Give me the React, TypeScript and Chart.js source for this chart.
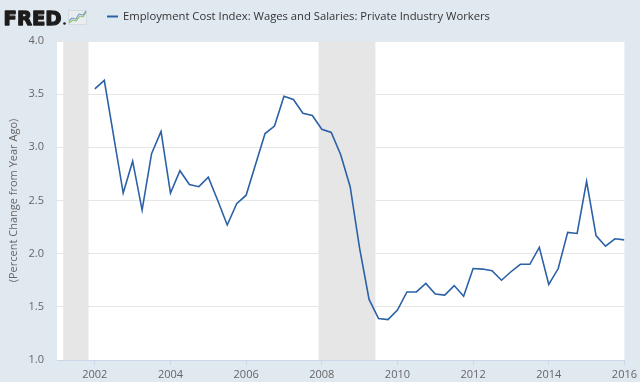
import { useEffect, useRef } from 'react';
import { Chart, registerables } from 'chart.js';

Chart.register(...registerables);

const seriesTitle = 'Employment Cost Index: Wages and Salaries: Private Industry Workers';
const yAxisTitle = '(Percent Change from Year Ago)';

const quarters = [
  '2002-01-01', '2002-04-01', '2002-07-01', '2002-10-01',
  '2003-01-01', '2003-04-01', '2003-07-01', '2003-10-01',
  '2004-01-01', '2004-04-01', '2004-07-01', '2004-10-01',
  '2005-01-01', '2005-04-01', '2005-07-01', '2005-10-01',
  '2006-01-01', '2006-04-01', '2006-07-01', '2006-10-01',
  '2007-01-01', '2007-04-01', '2007-07-01', '2007-10-01',
  '2008-01-01', '2008-04-01', '2008-07-01', '2008-10-01',
  '2009-01-01', '2009-04-01', '2009-07-01', '2009-10-01',
  '2010-01-01', '2010-04-01', '2010-07-01', '2010-10-01',
  '2011-01-01', '2011-04-01', '2011-07-01', '2011-10-01',
  '2012-01-01', '2012-04-01', '2012-07-01', '2012-10-01',
  '2013-01-01', '2013-04-01', '2013-07-01', '2013-10-01',
  '2014-01-01', '2014-04-01', '2014-07-01', '2014-10-01',
  '2015-01-01', '2015-04-01', '2015-07-01', '2015-10-01',
  '2016-01-01',
];

const values = [
  3.55, 3.63, 3.10, 2.57,
  2.87, 2.41, 2.94, 3.15,
  2.57, 2.78, 2.65, 2.63,
  2.72, 2.50, 2.27, 2.47,
  2.55, 2.84, 3.13, 3.20,
  3.48, 3.45, 3.32, 3.30,
  3.17, 3.14, 2.93, 2.63,
  2.05, 1.57, 1.39, 1.38,
  1.47, 1.64, 1.64, 1.72,
  1.62, 1.61, 1.70, 1.60,
  1.86, 1.855, 1.84, 1.75,
  1.83, 1.90, 1.90, 2.06,
  1.71, 1.86, 2.20, 2.19,
  2.68, 2.17, 2.07, 2.14,
  2.13,
];

const yearTicks = [2002, 2004, 2006, 2008, 2010, 2012, 2014, 2016];
const yTicks = [1.0, 1.5, 2.0, 2.5, 3.0, 3.5, 4.0];
const recessionStarts = ['2001-03-01', '2007-12-01'];
const recessionEnds = ['2001-11-01', '2009-06-01'];
const xRange = ['2001-01-01', '2016-01-01'];

function toYear(d: string): number {
  const [y, m, day] = d.split('-').map(Number);
  return y + (m - 1) / 12 + (day - 1) / 365;
}

const LINE_COLOR = '#2b61a6';
const BG = '#e1e9f0';

const fredPlugin = {
  id: 'fredDecor',
  beforeDraw(chart: any) {
    const { ctx, chartArea, width, height } = chart;
    const xs = chart.scales.x;
    ctx.save();
    ctx.fillStyle = BG;
    ctx.fillRect(0, 0, width, height);
    ctx.fillStyle = '#ffffff';
    ctx.fillRect(chartArea.left, chartArea.top, chartArea.right - chartArea.left, chartArea.bottom - chartArea.top);
    ctx.fillStyle = '#e6e6e6';
    for (let i = 0; i < recessionStarts.length; i++) {
      const a = Math.max(chartArea.left, xs.getPixelForValue(toYear(recessionStarts[i])));
      const b = Math.min(chartArea.right, xs.getPixelForValue(toYear(recessionEnds[i])));
      ctx.fillRect(a, chartArea.top, b - a, chartArea.bottom - chartArea.top);
    }
    ctx.restore();
  },
  afterDraw(chart: any) {
    const { ctx } = chart;
    ctx.save();
    // FRED logo
    ctx.font = 'bold 20px "DejaVu Sans"';
    ctx.fillStyle = '#1c1c1c';
    ctx.strokeStyle = '#1c1c1c';
    ctx.lineJoin = 'round';
    ctx.textBaseline = 'alphabetic';
    ctx.textAlign = 'left';
    const w = ctx.measureText('FRED').width;
    ctx.save();
    ctx.translate(3.6, 24.6);
    ctx.scale(58 / w, 1);
    ctx.lineWidth = 1.3;
    ctx.fillText('FRED', 0, 0);
    ctx.strokeText('FRED', 0, 0);
    ctx.restore();
    ctx.beginPath();
    ctx.arc(64.5, 23.5, 1.3, 0, Math.PI * 2);
    ctx.fill();
    // icon
    ctx.fillStyle = '#e9edf0';
    ctx.fillRect(68, 10, 19, 15);
    ctx.strokeStyle = '#d5dbe0';
    ctx.lineWidth = 1;
    ctx.strokeRect(68.5, 10.5, 18, 14);
    ctx.lineWidth = 1.2;
    ctx.strokeStyle = '#8fc06a';
    ctx.beginPath();
    ctx.moveTo(69, 23); ctx.lineTo(73, 20); ctx.lineTo(76, 21); ctx.lineTo(80, 16); ctx.lineTo(83, 17); ctx.lineTo(86, 12);
    ctx.stroke();
    ctx.strokeStyle = '#7d9fc8';
    ctx.beginPath();
    ctx.moveTo(69, 21); ctx.lineTo(72, 18); ctx.lineTo(76, 19); ctx.lineTo(79, 14); ctx.lineTo(83, 15); ctx.lineTo(86, 11);
    ctx.stroke();
    // legend
    ctx.strokeStyle = LINE_COLOR;
    ctx.lineWidth = 2;
    ctx.beginPath();
    ctx.moveTo(107, 16.5);
    ctx.lineTo(118, 16.5);
    ctx.stroke();
    ctx.font = '11.25px "Open Sans"';
    ctx.fillStyle = '#333333';
    ctx.fillText(seriesTitle, 123, 20);
    ctx.restore();
  },
};

export default function App() {
  const ref = useRef<HTMLCanvasElement | null>(null);
  useEffect(() => {
    if (!ref.current) return;
    Chart.defaults.font.family = '"Open Sans", sans-serif';
    const chart = new Chart(ref.current, {
      type: 'line',
      data: {
        datasets: [
          {
            label: seriesTitle,
            data: quarters.map((q, i) => ({ x: toYear(q), y: values[i] })),
            borderColor: LINE_COLOR,
            borderWidth: 1.6,
            pointRadius: 0,
            tension: 0,
            fill: false,
          },
        ],
      },
      options: {
        animation: false,
        responsive: false,
        maintainAspectRatio: false,
        layout: { padding: { left: 0, right: 13, top: 41, bottom: 0 } },
        plugins: { legend: { display: false }, tooltip: { enabled: false } },
        scales: {
          x: {
            type: 'linear',
            min: toYear(xRange[0]),
            max: toYear(xRange[1]),
            afterBuildTicks: (s: any) => {
              s.ticks = yearTicks.map((v) => ({ value: v }));
            },
            afterFit: (s: any) => {
              s.height = 22;
            },
            grid: { drawOnChartArea: false, drawTicks: true, tickLength: 5, color: '#ccd6eb' },
            border: { color: '#ccd6eb', width: 1 },
            ticks: {
              color: '#666666',
              font: { size: 11 },
              padding: 3,
              maxRotation: 0,
              autoSkip: false,
              callback: (v: any) => String(v),
            },
          },
          y: {
            min: 1,
            max: 4,
            afterBuildTicks: (s: any) => {
              s.ticks = yTicks.map((v) => ({ value: v }));
            },
            afterFit: (s: any) => {
              s.width = 57;
            },
            grid: { color: '#e6e6e6', drawTicks: false },
            border: { display: false },
            ticks: {
              padding: 13,
              color: '#666666',
              font: { size: 11 },
              callback: (v: any) => Number(v).toFixed(1),
            },
            title: {
              display: true,
              text: yAxisTitle,
              color: '#666666',
              font: { size: 11 },
              padding: { top: 7, bottom: 0 },
            },
          },
        },
      },
      plugins: [fredPlugin],
    });
    return () => chart.destroy();
  }, []);
  return (
    <div style={{ position: 'absolute', left: 0, top: 0, width: 640, height: 382 }}>
      <canvas ref={ref} width={640} height={382} style={{ display: 'block' }} />
    </div>
  );
}
